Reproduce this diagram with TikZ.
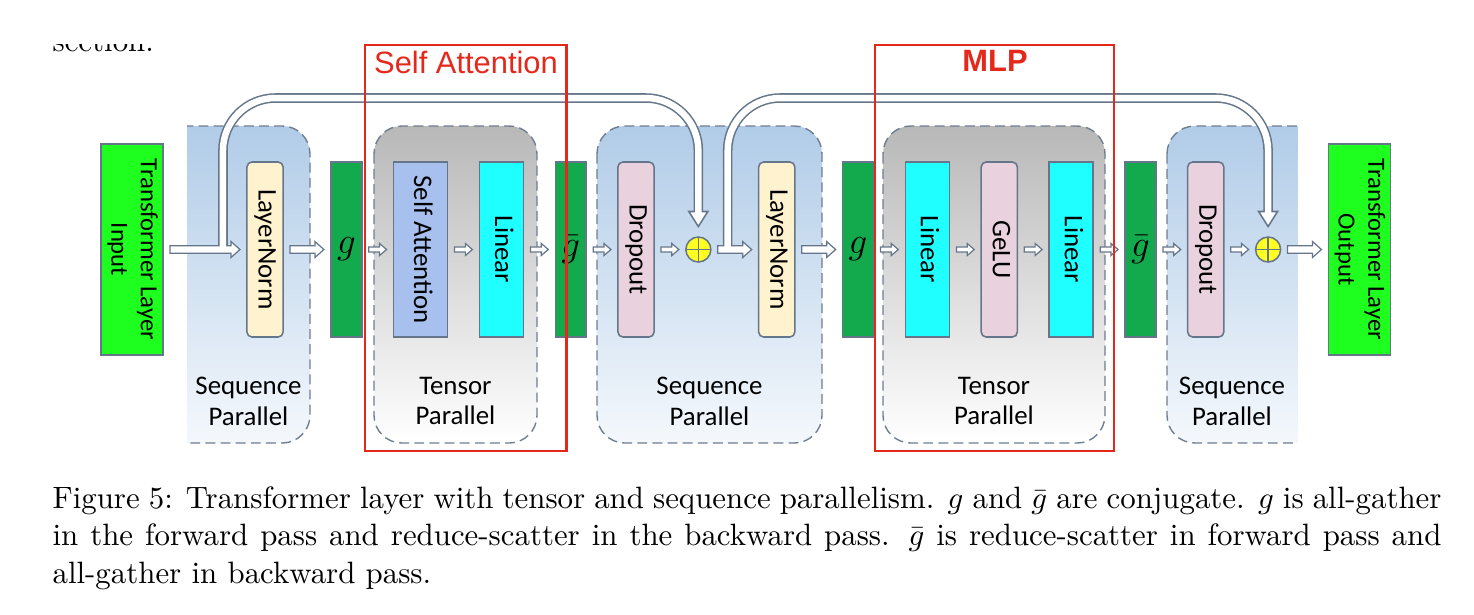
\documentclass[tikz,border=0pt]{standalone}
\usepackage{fontspec}
\usepackage{graphicx}
\usepackage{tikz}
\usetikzlibrary{calc,positioning}
\newfontfamily\diagfont{Carlito}
\newfontfamily\headfont{Liberation Sans}
\definecolor{edgegray}{HTML}{66768A}
\definecolor{dashgray}{HTML}{6E7D8F}
\definecolor{seqtop}{HTML}{B1CCE8}
\definecolor{seqmid}{HTML}{C4D8EE}
\definecolor{seqbot}{HTML}{F4F8FC}
\definecolor{tentop}{HTML}{B8B8B8}
\definecolor{tenmid}{HTML}{D6D6D6}
\definecolor{tenbot}{HTML}{FFFFFF}
\definecolor{normfill}{HTML}{FFF2CE}
\definecolor{dropfill}{HTML}{E9D1DD}
\definecolor{attnfill}{HTML}{A8C0EE}
\definecolor{linfill}{HTML}{20FFFF}
\definecolor{commfill}{HTML}{13A94D}
\definecolor{iofill}{HTML}{1FFF1F}
\definecolor{addfill}{HTML}{FFFF22}
\definecolor{framered}{HTML}{E5281C}
\newcommand{\vlabel}[1]{\rotatebox{-90}{\begin{tabular}{@{}c@{}}#1\end{tabular}}}

\begin{document}
\begin{tikzpicture}[x=0.324pt,y=-0.324pt,node distance=10.3pt,
    box/.style={draw=edgegray,line width=0.5pt,inner sep=0pt,outer sep=0pt,minimum height=56.7pt,
      font=\diagfont\fontsize{8.7}{10.4}\selectfont},
    iobox/.style={box,fill=iofill,minimum width=20.1pt,minimum height=68.4pt,
      font=\diagfont\fontsize{8}{9.6}\selectfont},
    normbox/.style={box,rounded corners=1.6pt,fill=normfill,minimum width=11.7pt},
    dropbox/.style={box,rounded corners=1.6pt,fill=dropfill,minimum width=11.7pt},
    attnbox/.style={box,fill=attnfill,minimum width=17.5pt},
    linbox/.style={box,fill=linfill,minimum width=14.3pt},
    commbox/.style={box,fill=commfill,minimum width=10pt,font=\fontsize{11.5}{12}\selectfont},
    addnode/.style={circle,draw=edgegray,line width=0.5pt,fill=addfill,inner sep=0pt,outer sep=0pt,
      minimum size=8.1pt,
      path picture={\draw[edgegray,line width=0.5pt]
        (path picture bounding box.north) -- (path picture bounding box.south)
        (path picture bounding box.west) -- (path picture bounding box.east);}},
    seqregion/.style={draw=dashgray,line width=0.45pt,dash pattern=on 3.2pt off 1.7pt,
      rounded corners=9pt,top color=seqtop,middle color=seqmid,bottom color=seqbot},
    tenregion/.style={seqregion,top color=tentop,middle color=tenmid,bottom color=tenbot},
    regionlabel/.style={align=center,font=\diagfont\fontsize{8.7}{10}\selectfont},
    bigarr/.style={draw=edgegray,fill=white,line width=0.4pt,
      to path={($(\tikztostart)+(7,-3.7)$) -- ($(\tikztotarget)+(-16,-3.7)$)
        -- ($(\tikztotarget)+(-16,-8)$) -- ($(\tikztotarget)+(-7,0)$)
        -- ($(\tikztotarget)+(-16,8)$) -- ($(\tikztotarget)+(-16,3.7)$)
        -- ($(\tikztostart)+(7,3.7)$) -- cycle}},
    smallarr/.style={draw=edgegray,fill=white,line width=0.4pt,
      to path={($(\tikztostart)+(7,-2.6)$) -- ($(\tikztotarget)+(-14,-2.6)$)
        -- ($(\tikztotarget)+(-14,-6)$) -- ($(\tikztotarget)+(-7,0)$)
        -- ($(\tikztotarget)+(-14,6)$) -- ($(\tikztotarget)+(-14,2.6)$)
        -- ($(\tikztostart)+(7,2.6)$) -- cycle}},
    pipe/.style={white,line width=2.1pt,rounded corners=17pt,
      preaction={draw=edgegray,line width=3.1pt,shorten <=1.3pt,shorten >=0.65pt}},
    pipehead/.style={draw=edgegray,fill=white,line width=0.5pt},
    redframe/.style={draw=framered,line width=0.8pt},
    framelabel/.style={text=framered,font=\headfont\fontsize{10}{12}\selectfont}]
  \useasboundingbox (0,0) rectangle (1474,614);

  % text cut off at the top of the page
  \begin{scope}
    \clip (0,44) rectangle (300,70);
    \node[anchor=base west,inner sep=0pt] (sect) at (52,51) {section.};
  \end{scope}

  % parallel regions
  \begin{scope}
    \clip (187,0) rectangle (1474,614);
    \draw[seqregion] (150,126) rectangle (310,443);
  \end{scope}
  \draw[tenregion] (374,126) rectangle (537,443);
  \draw[seqregion] (597,126) rectangle (822,443);
  \draw[tenregion] (883,126) rectangle (1105,443);
  \begin{scope}
    \clip (0,0) rectangle (1297.5,614);
    \draw[seqregion] (1167,126) rectangle (1340,443);
  \end{scope}
  \node[regionlabel] (seqlbl1) at (248.5,401) {Sequence\\Parallel};
  \node[regionlabel] (tenlbl1) at (455.5,401) {Tensor\\Parallel};
  \node[regionlabel] (seqlbl2) at (709.5,401) {Sequence\\Parallel};
  \node[regionlabel] (tenlbl2) at (994,401) {Tensor\\Parallel};
  \node[regionlabel] (seqlbl3) at (1232,401) {Sequence\\Parallel};

  % layer blocks
  \node[iobox] (in) at (132,249.5) {\vlabel{Transformer Layer\\Input}};
  \node[normbox,right=27.2pt of in] (ln1) {\vlabel{LayerNorm}};
  \node[commbox,right=15.5pt of ln1] (g1) {$g$};
  \node[attnbox,right=of g1] (attn) {\vlabel{Self Attention}};
  \node[linbox,right=of attn] (lin1) {\vlabel{Linear}};
  \node[commbox,right=of lin1] (gb1) {$\bar{g}$};
  \node[dropbox,right=of gb1] (drop1) {\vlabel{Dropout}};
  \node[addnode,right=of drop1] (add1) {};
  \node[normbox,right=15.5pt of add1] (ln2) {\vlabel{LayerNorm}};
  \node[commbox,right=15.5pt of ln2] (g2) {$g$};
  \node[linbox,right=of g2] (lin2) {\vlabel{Linear}};
  \node[dropbox,right=of lin2] (gelu) {\vlabel{GeLU}};
  \node[linbox,right=of gelu] (lin3) {\vlabel{Linear}};
  \node[commbox,right=of lin3] (gb2) {$\bar{g}$};
  \node[dropbox,right=of gb2] (drop2) {\vlabel{Dropout}};
  \node[addnode,right=of drop2] (add2) {};
  \node[iobox,right=15.5pt of add2] (out) {\vlabel{Transformer Layer\\Output}};

  \draw[bigarr] (in.east) to (ln1.west);
  \draw[bigarr] (ln1.east) to (g1.west);
  \draw[smallarr] (g1.east) to (attn.west);
  \draw[smallarr] (attn.east) to (lin1.west);
  \draw[smallarr] (lin1.east) to (gb1.west);
  \draw[smallarr] (gb1.east) to (drop1.west);
  \draw[smallarr] (drop1.east) to (add1.west);
  \draw[bigarr] (add1.east) to (ln2.west);
  \draw[bigarr] (ln2.east) to (g2.west);
  \draw[smallarr] (g2.east) to (lin2.west);
  \draw[smallarr] (lin2.east) to (gelu.west);
  \draw[smallarr] (gelu.east) to (lin3.west);
  \draw[smallarr] (lin3.east) to (gb2.west);
  \draw[smallarr] (gb2.east) to (drop2.west);
  \draw[smallarr] (drop2.east) to (add2.west);
  \draw[bigarr] (add2.east) to (out.west);

  % residual connections
  \coordinate (rail) at (0,98);
  \coordinate (skipA) at ($(ln1.west)+(-24,0)$);
  \coordinate (skipB) at ($(ln2.west)+(-31,0)$);
  \draw[pipehead] ($(add1.north)+(-9.5,-25.5)$) -- ($(add1.north)+(9.5,-25.5)$)
    -- ($(add1.north)+(0,-10.5)$) -- cycle;
  \draw[pipehead] ($(add2.north)+(-9.5,-25.5)$) -- ($(add2.north)+(9.5,-25.5)$)
    -- ($(add2.north)+(0,-10.5)$) -- cycle;
  \draw[pipe] (skipA) -- (skipA |- rail) -- (add1 |- rail) -- ($(add1.north)+(0,-23.5)$);
  \draw[pipe] (skipB) -- (skipB |- rail) -- (add2 |- rail) -- ($(add2.north)+(0,-23.5)$);

  % highlighted parts
  \draw[redframe] (365,45) rectangle (566.5,451);
  \draw[redframe] (875,45) rectangle (1114,451);
  \node[framelabel] (attnlbl) at (466,62) {Self Attention};
  \node[framelabel,font=\headfont\bfseries\fontsize{10}{12}\selectfont] (mlplbl) at (995,61) {MLP};

  \node[anchor=base west,text width=450pt,align=justify,inner sep=0pt,
    font=\fontsize{10}{12.3}\selectfont] (cap) at (52,508)
    {Figure 5: Transformer layer with tensor and sequence parallelism. $g$ and $\bar{g}$ are
    conjugate. $g$ is all-gather in the forward pass and reduce-scatter in the backward pass.
    $\bar{g}$ is reduce-scatter in forward pass and all-gather in backward pass.};
\end{tikzpicture}
\end{document}
